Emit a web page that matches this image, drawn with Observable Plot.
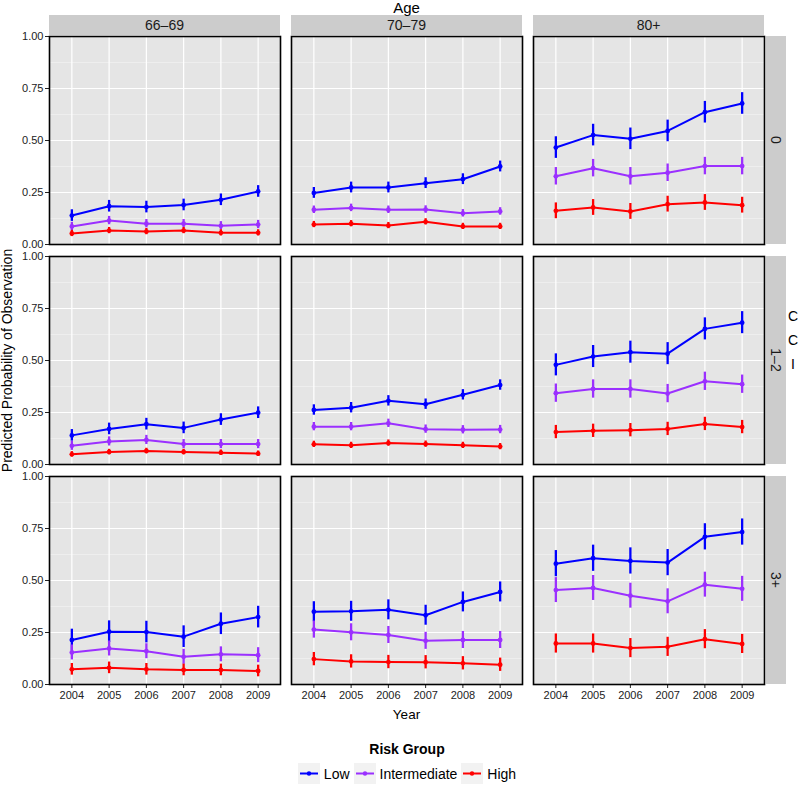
<!DOCTYPE html>
<html>
<head>
<meta charset="utf-8">
<script src="https://cdn.jsdelivr.net/npm/d3@7"></script>
<script src="https://cdn.jsdelivr.net/npm/@observablehq/plot@0.6"></script>
<style>
  body { margin: 0; background: #ffffff; font-family: "Liberation Sans", Arial, sans-serif; }
  #wrap { position: relative; width: 800px; height: 785px; }
  #legend { position: absolute; left: 0; top: 740px; width: 814px; text-align: center; color: #000; }
  #legend .title { font-weight: bold; font-size: 14px; line-height: 18px; height: 18px; }
  #legend .items { display: flex; justify-content: center; align-items: center; margin-top: 5px; font-size: 14px; }
  #legend .item { display: flex; align-items: center; margin: 0 2px; }
  #legend .item span { margin-left: 4px; }
</style>
</head>
<body>
<div id="wrap"><div id="chart"></div><div id="legend"></div></div>
<script>
// ---------------- data ----------------
const years = [2004, 2005, 2006, 2007, 2008, 2009];
const ageGroups = ["66–69", "70–79", "80+"];
const cciGroups = ["0", "1–2", "3+"];
const riskGroups = ["Low", "Intermediate", "High"];
const riskColors = ["#0000FF", "#9B30FF", "#FF0000"];
const yTicks = [0, 0.25, 0.5, 0.75, 1];
const yMinorTicks = [0.125, 0.375, 0.625, 0.875];

// panel order: CCI 0 (66-69, 70-79, 80+), CCI 1-2 (...), CCI 3+ (...)
const lowPred = [
  [0.139, 0.184, 0.180, 0.190, 0.215, 0.255],
  [0.248, 0.274, 0.274, 0.295, 0.314, 0.375],
  [0.466, 0.526, 0.508, 0.546, 0.636, 0.678],
  [0.140, 0.171, 0.194, 0.176, 0.216, 0.249],
  [0.262, 0.273, 0.306, 0.290, 0.335, 0.382],
  [0.479, 0.519, 0.540, 0.533, 0.652, 0.682],
  [0.214, 0.254, 0.252, 0.230, 0.292, 0.324],
  [0.350, 0.352, 0.359, 0.333, 0.397, 0.445],
  [0.581, 0.607, 0.594, 0.586, 0.710, 0.733]
];
const intPred = [
  [0.087, 0.115, 0.100, 0.100, 0.090, 0.096],
  [0.167, 0.176, 0.167, 0.168, 0.150, 0.159],
  [0.328, 0.367, 0.328, 0.345, 0.377, 0.377],
  [0.090, 0.111, 0.118, 0.098, 0.098, 0.098],
  [0.182, 0.182, 0.198, 0.170, 0.167, 0.168],
  [0.343, 0.363, 0.363, 0.341, 0.400, 0.386],
  [0.154, 0.173, 0.160, 0.133, 0.145, 0.141],
  [0.264, 0.251, 0.238, 0.210, 0.214, 0.214],
  [0.454, 0.464, 0.427, 0.400, 0.480, 0.460]
];
const highPred = [
  [0.053, 0.067, 0.062, 0.067, 0.056, 0.056],
  [0.096, 0.100, 0.091, 0.109, 0.087, 0.087],
  [0.162, 0.178, 0.159, 0.194, 0.202, 0.189],
  [0.049, 0.060, 0.065, 0.060, 0.057, 0.052],
  [0.097, 0.092, 0.103, 0.098, 0.092, 0.086],
  [0.156, 0.162, 0.165, 0.171, 0.195, 0.180],
  [0.073, 0.080, 0.073, 0.070, 0.070, 0.065],
  [0.122, 0.111, 0.108, 0.107, 0.102, 0.095],
  [0.197, 0.197, 0.175, 0.181, 0.218, 0.195]
];
// half-width of the error bars, one per panel
const lowErr  = [0.028, 0.026, 0.052, 0.028, 0.025, 0.053, 0.052, 0.048, 0.063];
const intErr  = [0.020, 0.018, 0.042, 0.022, 0.020, 0.044, 0.036, 0.041, 0.060];
const highErr = [0.015, 0.015, 0.038, 0.013, 0.015, 0.032, 0.028, 0.032, 0.046];

// ---------------- build table ----------------
const predBy = [lowPred, intPred, highPred];
const errBy = [lowErr, intErr, highErr];
const rows = [];
cciGroups.forEach((cci, ci) => {
  ageGroups.forEach((age, ai) => {
    const p = ci * 3 + ai;
    riskGroups.forEach((g, gi) => {
      years.forEach((yr, yi) => {
        const v = predBy[gi][p][yi];
        const e = errBy[gi][p];
        rows.push({cci, age, group: g, year: yr, value: v, lo: v - e, hi: v + e});
      });
    });
  });
});

// ---------------- plot ----------------
const W = 800, H = 727;
const mTop = 36, mRight = 35, mBottom = 42, mLeft = 48;

const plot = Plot.plot({
  width: W, height: H,
  marginTop: mTop, marginRight: mRight, marginBottom: mBottom, marginLeft: mLeft,
  style: {fontFamily: "Liberation Sans, Arial, sans-serif", fontSize: "11px", color: "#222", background: "white", overflow: "visible"},
  facet: {data: rows, x: "age", y: "cci", marginTop: 0, marginRight: 0, marginBottom: 0, marginLeft: 0},
  fx: {domain: ageGroups, axis: null, paddingInner: 0.046, paddingOuter: 0, label: null},
  fy: {domain: cciGroups, axis: null, paddingInner: 0.054, paddingOuter: 0, label: null},
  x: {domain: [2003.4, 2009.6], ticks: years, tickFormat: "d", label: null, tickSize: 4, tickPadding: 3},
  y: {domain: [0, 1], ticks: yTicks, tickFormat: ".2f", label: null, tickSize: 4, tickPadding: 2},
  color: {domain: riskGroups, range: riskColors},
  marks: [
    Plot.frame({fill: "#E5E5E5"}),
    Plot.ruleY(yMinorTicks, {stroke: "#F4F4F4", strokeWidth: 0.6}),
    Plot.ruleY(yTicks, {stroke: "white", strokeWidth: 1.2}),
    Plot.ruleX(years, {stroke: "white", strokeWidth: 1.2}),
    Plot.line(rows, {x: "year", y: "value", stroke: "group", z: "group", strokeWidth: 2}),
    Plot.ruleX(rows, {x: "year", y1: "lo", y2: "hi", stroke: "group", strokeWidth: 2.3}),
    Plot.dot(rows, {x: "year", y: "value", fill: "group", r: 2.4}),
    Plot.frame({stroke: "black", strokeWidth: 1.6})
  ]
});
document.getElementById("chart").appendChild(plot);

// ---------------- strips & titles ----------------
const svg = d3.select(plot);
let fxS = null, fyS = null;
try { fxS = plot.scale("fx"); fyS = plot.scale("fy"); } catch (e) {}
const innerW = W - mLeft - mRight, innerH = H - mTop - mBottom;
const bwX = fxS && fxS.bandwidth ? fxS.bandwidth : innerW / (3 - 0.046) * (1 - 0.046);
const bwY = fyS && fyS.bandwidth ? fyS.bandwidth : innerH / (3 - 0.054) * (1 - 0.054);
const xOf = (a, i) => { const p = fxS && fxS.apply ? fxS.apply(a) : null; return p != null ? p : mLeft + i * innerW / (3 - 0.046); };
const yOf = (c, i) => { const p = fyS && fyS.apply ? fyS.apply(c) : null; return p != null ? p : mTop + i * innerH / (3 - 0.054); };

const g = svg.append("g").attr("class", "strips");
ageGroups.forEach((a, i) => {
  const x0 = xOf(a, i);
  g.append("rect").attr("x", x0).attr("y", 15).attr("width", bwX).attr("height", mTop - 16).attr("fill", "#CCCCCC");
  g.append("text").attr("x", x0 + bwX / 2).attr("y", 25).attr("dy", "0.35em").attr("text-anchor", "middle")
    .attr("font-size", 14).attr("fill", "#1a1a1a").text(a);
});
const xr = W - mRight;
cciGroups.forEach((c, i) => {
  const y0 = yOf(c, i);
  g.append("rect").attr("x", xr + 1).attr("y", y0).attr("width", 20).attr("height", bwY).attr("fill", "#CCCCCC");
  g.append("text").attr("transform", `translate(${xr + 11},${y0 + bwY / 2}) rotate(90)`)
    .attr("dy", "0.35em").attr("text-anchor", "middle").attr("font-size", 14).attr("fill", "#1a1a1a").text(c);
});
const cx = mLeft + innerW / 2;
svg.append("text").attr("x", cx).attr("y", 8).attr("dy", "0.35em").attr("text-anchor", "middle")
  .attr("font-size", 15).attr("fill", "#000").text("Age");
svg.append("text").attr("x", cx).attr("y", 714).attr("dy", "0.35em").attr("text-anchor", "middle")
  .attr("font-size", 13.5).attr("fill", "#000").text("Year");
svg.append("text").attr("transform", `translate(7,${mTop + innerH / 2}) rotate(-90)`).attr("dy", "0.35em")
  .attr("text-anchor", "middle").attr("font-size", 14).attr("fill", "#000").text("Predicted Probability of Observation");
["C", "C", "I"].forEach((ch, i) => {
  svg.append("text").attr("x", 793).attr("y", 316 + i * 24).attr("dy", "0.35em").attr("text-anchor", "middle")
    .attr("font-size", 14).attr("fill", "#000").text(ch);
});

// ---------------- legend ----------------
const leg = d3.select("#legend");
leg.append("div").attr("class", "title").text("Risk Group");
const items = leg.append("div").attr("class", "items");
riskGroups.forEach((r, i) => {
  const it = items.append("div").attr("class", "item");
  const k = it.append("svg").attr("width", 22).attr("height", 21);
  k.append("rect").attr("width", 22).attr("height", 21).attr("fill", "#F2F2F2");
  k.append("line").attr("x1", 2).attr("x2", 20).attr("y1", 10.5).attr("y2", 10.5).attr("stroke", riskColors[i]).attr("stroke-width", 2);
  k.append("circle").attr("cx", 11).attr("cy", 10.5).attr("r", 2.2).attr("fill", riskColors[i]);
  it.append("span").text(r);
});
</script>
</body>
</html>
